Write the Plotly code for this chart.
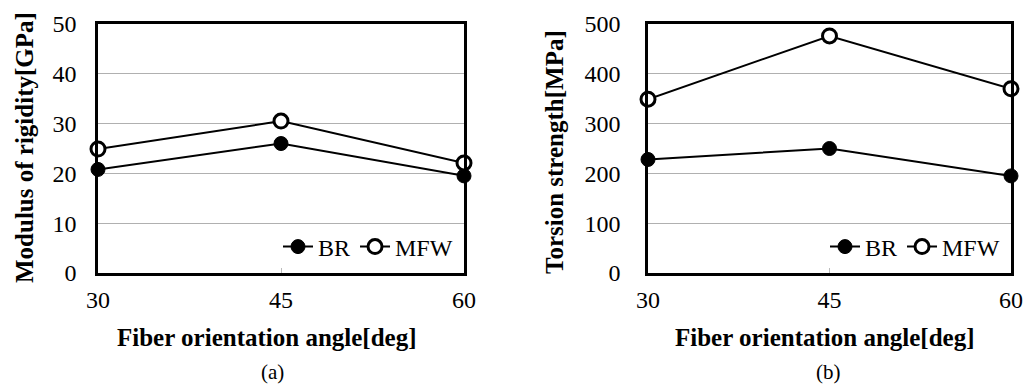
import plotly.graph_objects as go

angles = [30, 45, 60]
rigidity_BR = [20.8, 26.0, 19.5]
rigidity_MFW = [24.9, 30.5, 22.1]
strength_BR = [228, 250, 195]
strength_MFW = [349, 476, 370]
series_names = ["BR", "MFW"]

W, H = 1025, 388
FONT = "Times New Roman"

fig = go.Figure()

def add_series(xaxis, yaxis, br, mfw, legend):
    fig.add_trace(go.Scatter(
        x=angles, y=br, name=series_names[0], mode="lines+markers",
        line=dict(color="black", width=2),
        marker=dict(symbol="circle", size=14, color="black", line=dict(color="black", width=1)),
        xaxis=xaxis, yaxis=yaxis, cliponaxis=False, legend=legend))
    fig.add_trace(go.Scatter(
        x=angles, y=mfw, name=series_names[1], mode="lines+markers",
        line=dict(color="black", width=2),
        marker=dict(symbol="circle", size=14, color="white", line=dict(color="black", width=3)),
        xaxis=xaxis, yaxis=yaxis, cliponaxis=False, legend=legend))

add_series("x", "y", rigidity_BR, rigidity_MFW, "legend")
add_series("x2", "y2", strength_BR, strength_MFW, "legend2")

def px_x(p):
    return p / W

def px_y(p):
    return 1 - p / H

axis_common = dict(showline=True, linecolor="black", linewidth=2.5, mirror=True, automargin=False,
                   ticklabeloverflow="allow",
                   tickfont=dict(family=FONT, size=24, color="black"), zeroline=False)

leg_common = dict(orientation="h", yanchor="middle", bgcolor="rgba(0,0,0,0)",
                  font=dict(family=FONT, size=24, color="black"), itemwidth=30, tracegroupgap=0)

fig.update_layout(
    width=W, height=H, margin=dict(l=0, r=0, t=0, b=0, autoexpand=False),
    paper_bgcolor="white", plot_bgcolor="white",
    font=dict(family=FONT, color="black"),
    xaxis=dict(domain=[px_x(98), px_x(464)], range=[30, 60], tickvals=angles,
               ticks="inside", ticklen=5, tickcolor="#bbbbbb", showgrid=False,
               ticklabelstandoff=3, anchor="y", **axis_common),
    yaxis=dict(domain=[px_y(273), px_y(24)], range=[0, 50], dtick=10,
               showgrid=True, gridcolor="#b0b0b0", gridwidth=1, ticks="",
               ticklabelstandoff=14, anchor="x", **axis_common),
    xaxis2=dict(domain=[px_x(648), px_x(1011)], range=[30, 60], tickvals=angles,
                ticks="inside", ticklen=5, tickcolor="#bbbbbb", showgrid=False,
                ticklabelstandoff=3, anchor="y2", **axis_common),
    yaxis2=dict(domain=[px_y(273), px_y(24)], range=[0, 500], dtick=100,
                showgrid=True, gridcolor="#b0b0b0", gridwidth=1, ticks="",
                ticklabelstandoff=20, anchor="x2", **axis_common),
    legend=dict(x=px_x(458), xanchor="right", y=px_y(247), **leg_common),
    legend2=dict(x=px_x(1005), xanchor="right", y=px_y(247), **leg_common),
)

ann = [
    dict(text="<b>Fiber orientation angle[deg]</b>", x=px_x(267), y=px_y(337)),
    dict(text="<b>Fiber orientation angle[deg]</b>", x=px_x(825), y=px_y(337)),
    dict(text="<b>Modulus of rigidity[GPa]</b>", x=px_x(24), y=px_y(148), textangle=-90),
    dict(text="<b>Torsion strength[MPa]</b>", x=px_x(555), y=px_y(152), textangle=-90),
    dict(text="(a)", x=px_x(272), y=px_y(372), size=21),
    dict(text="(b)", x=px_x(828), y=px_y(372), size=21),
]
for a in ann:
    fig.add_annotation(text=a["text"], x=a["x"], y=a["y"], xref="paper", yref="paper",
                       xanchor="center", yanchor="middle", showarrow=False,
                       textangle=a.get("textangle", 0),
                       font=dict(family=FONT, size=a.get("size", 25), color="black"))

fig.write_html("out.html", config={"displayModeBar": False},
               post_script="document.body.style.margin='0px';")
